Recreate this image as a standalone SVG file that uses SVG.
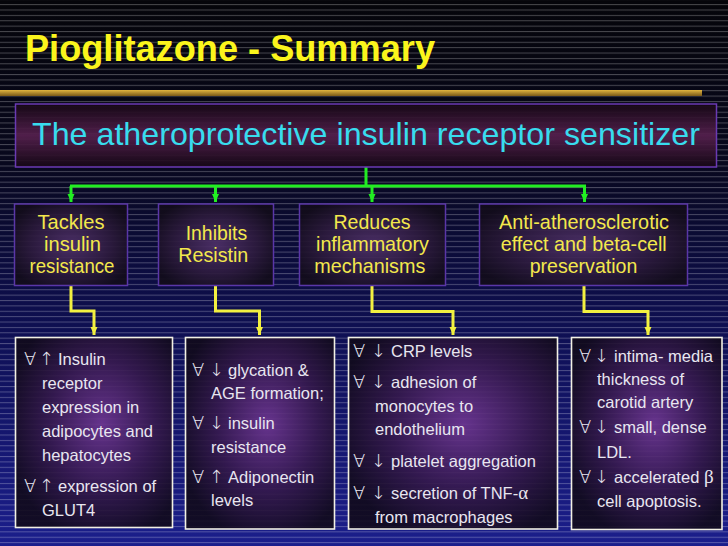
<svg xmlns="http://www.w3.org/2000/svg" width="728" height="546" viewBox="0 0 728 546">
<defs>
<linearGradient id="bg" x1="0" y1="0" x2="0" y2="1">
<stop offset="0" stop-color="#05050a"/>
<stop offset="0.3" stop-color="#08081e"/>
<stop offset="0.6" stop-color="#0e0f52"/>
<stop offset="1" stop-color="#1b1e8c"/>
</linearGradient>
<pattern id="stripes" patternUnits="userSpaceOnUse" x="0" y="9.5" width="728" height="5.38">
<rect x="0" y="0" width="728" height="1" fill="#ffffff" fill-opacity="0.26"/>
</pattern>
<linearGradient id="gold" x1="0" y1="0" x2="0" y2="1">
<stop offset="0" stop-color="#e0b440"/>
<stop offset="1" stop-color="#7a5818"/>
</linearGradient>
<linearGradient id="hdr" x1="0" y1="0" x2="0" y2="1">
<stop offset="0" stop-color="#150714" stop-opacity="0.92"/>
<stop offset="0.5" stop-color="#56204e" stop-opacity="0.92"/>
<stop offset="1" stop-color="#150714" stop-opacity="0.92"/>
</linearGradient>
<radialGradient id="topfill" cx="0.5" cy="0.5" r="0.6">
<stop offset="0" stop-color="#4e3068" stop-opacity="0.92"/>
<stop offset="0.6" stop-color="#2c1a3c" stop-opacity="0.92"/>
<stop offset="1" stop-color="#120c1a" stop-opacity="0.92"/>
</radialGradient>
<radialGradient id="botfill" cx="0.55" cy="0.45" r="0.62">
<stop offset="0" stop-color="#6e3690" stop-opacity="0.9"/>
<stop offset="0.55" stop-color="#36194c" stop-opacity="0.9"/>
<stop offset="1" stop-color="#110a1a" stop-opacity="0.9"/>
</radialGradient>
<marker id="ay" markerUnits="userSpaceOnUse" markerWidth="10" markerHeight="10" refX="8" refY="5" orient="auto" viewBox="0 0 10 10">
<path d="M0,1.5 L8,5 L0,8.5 Z" fill="#f2f040"/>
</marker>
<marker id="ag2" markerUnits="userSpaceOnUse" markerWidth="10" markerHeight="10" refX="8" refY="5" orient="auto" viewBox="0 0 10 10">
<path d="M0,1.5 L8,5 L0,8.5 Z" fill="#22ee22"/>
</marker>
</defs>
<style>
.title{font-family:"Liberation Sans",Arial,sans-serif;font-weight:bold;font-size:36px;fill:#fbf51c}
.hdrtxt{font-family:"Liberation Sans",Arial,sans-serif;font-size:32px;fill:#38dcee}
.top{font-family:"Liberation Sans",Arial,sans-serif;font-size:21px;fill:#f3e84c}
.bot{font-family:"Liberation Sans",Arial,sans-serif;font-size:16.5px;fill:#e8e6f0}
.sym{font-family:"DejaVu Sans",sans-serif;font-weight:200;font-size:18px}
.gr{font-family:"Liberation Serif",serif;font-size:19px}
.tbox{fill:url(#topfill);stroke:#5a36a8;stroke-width:1.5}
.bbox{fill:url(#botfill);stroke:#f2f0e4;stroke-width:1.6}
.gline{fill:none;stroke:#22ee22;stroke-width:3}
.yline{fill:none;stroke:#f2f040;stroke-width:3}
</style>

<rect x="0" y="0" width="728" height="546" fill="url(#bg)"/>
<rect x="0" y="0" width="728" height="546" fill="url(#stripes)"/>

<g id="title">
<text class="title" x="25" y="61" textLength="410" lengthAdjust="spacingAndGlyphs">Pioglitazone - Summary</text>
<rect x="0" y="90" width="702" height="6" fill="url(#gold)"/>
</g>

<g id="connectors">
<path class="gline" d="M366,167 V186"/>
<path class="gline" d="M70,186 H586"/>
<path class="gline" d="M71,186 V202" marker-end="url(#ag2)"/>
<path class="gline" d="M215.5,186 V202" marker-end="url(#ag2)"/>
<path class="gline" d="M372,186 V202" marker-end="url(#ag2)"/>
<path class="gline" d="M584.5,186 V202" marker-end="url(#ag2)"/>
<path class="yline" d="M71,286 V311 H94 V335" marker-end="url(#ay)"/>
<path class="yline" d="M215.5,286 V311 H259.5 V335" marker-end="url(#ay)"/>
<path class="yline" d="M372,286 V311.5 H453 V335" marker-end="url(#ay)"/>
<path class="yline" d="M584,286 V311.5 H648 V335" marker-end="url(#ay)"/>
</g>

<g id="header">
<rect x="15.5" y="104" width="701" height="63" fill="url(#hdr)" stroke="#6a3ab4" stroke-width="1.5"/>
<text class="hdrtxt" x="32" y="145" textLength="668" lengthAdjust="spacingAndGlyphs">The atheroprotective insulin receptor sensitizer</text>
</g>

<g id="tackles">
<rect class="tbox" x="14.5" y="204" width="113" height="81.5"/>
<text class="top" x="37.5" y="228.5" textLength="67" lengthAdjust="spacingAndGlyphs">Tackles</text>
<text class="top" x="44" y="250.5" textLength="57" lengthAdjust="spacingAndGlyphs">insulin</text>
<text class="top" x="29.5" y="272.5" textLength="85" lengthAdjust="spacingAndGlyphs">resistance</text>
</g>

<g id="inhibits">
<rect class="tbox" x="158.5" y="204" width="115" height="81.5"/>
<text class="top" x="185.7" y="239.5" textLength="61.5" lengthAdjust="spacingAndGlyphs">Inhibits</text>
<text class="top" x="178.3" y="262" textLength="70" lengthAdjust="spacingAndGlyphs">Resistin</text>
</g>

<g id="reduces">
<rect class="tbox" x="299.5" y="204" width="146" height="81.5"/>
<text class="top" x="333.5" y="228.5" textLength="77" lengthAdjust="spacingAndGlyphs">Reduces</text>
<text class="top" x="316" y="251" textLength="113" lengthAdjust="spacingAndGlyphs">inflammatory</text>
<text class="top" x="314.3" y="273" textLength="111" lengthAdjust="spacingAndGlyphs">mechanisms</text>
</g>

<g id="anti">
<rect class="tbox" x="479.5" y="204" width="208" height="81.5"/>
<text class="top" x="499" y="228.5" textLength="170" lengthAdjust="spacingAndGlyphs">Anti-atherosclerotic</text>
<text class="top" x="500.7" y="251" textLength="166" lengthAdjust="spacingAndGlyphs">effect and beta-cell</text>
<text class="top" x="529.7" y="273" textLength="107.6" lengthAdjust="spacingAndGlyphs">preservation</text>
</g>

<g id="box-insulin">
<rect class="bbox" x="15.5" y="337.5" width="157" height="190"/>
<text class="bot" y="364.5"><tspan class="sym" x="24">∀</tspan><tspan class="sym" x="39">↑</tspan><tspan x="58">Insulin</tspan></text>
<text class="bot" x="42" y="388.5">receptor</text>
<text class="bot" x="42" y="413">expression in</text>
<text class="bot" x="42" y="437">adipocytes and</text>
<text class="bot" x="42" y="461">hepatocytes</text>
<text class="bot" y="491.5"><tspan class="sym" x="24">∀</tspan><tspan class="sym" x="39">↑</tspan><tspan x="58">expression of</tspan></text>
<text class="bot" x="42" y="515.5">GLUT4</text>
</g>

<g id="box-resistin">
<rect class="bbox" x="185.5" y="337.5" width="149" height="191.5"/>
<text class="bot" y="375.5"><tspan class="sym" x="192">∀</tspan><tspan class="sym" x="209">↓</tspan><tspan x="228">glycation &amp;</tspan></text>
<text class="bot" x="211" y="399">AGE formation;</text>
<text class="bot" y="429"><tspan class="sym" x="192">∀</tspan><tspan class="sym" x="209">↓</tspan><tspan x="228">insulin</tspan></text>
<text class="bot" x="211" y="452.5">resistance</text>
<text class="bot" y="482.5"><tspan class="sym" x="192">∀</tspan><tspan class="sym" x="209">↑</tspan><tspan x="228">Adiponectin</tspan></text>
<text class="bot" x="211" y="506">levels</text>
</g>

<g id="box-inflammation">
<rect class="bbox" x="348.5" y="337.5" width="209" height="191.5"/>
<text class="bot" y="357"><tspan class="sym" x="353">∀</tspan><tspan class="sym" x="371">↓</tspan><tspan x="391">CRP levels</tspan></text>
<text class="bot" y="388"><tspan class="sym" x="353">∀</tspan><tspan class="sym" x="371">↓</tspan><tspan x="391">adhesion of</tspan></text>
<text class="bot" x="375" y="411.7">monocytes to</text>
<text class="bot" x="375" y="435">endothelium</text>
<text class="bot" y="467"><tspan class="sym" x="353">∀</tspan><tspan class="sym" x="371">↓</tspan><tspan x="391">platelet aggregation</tspan></text>
<text class="bot" y="499"><tspan class="sym" x="353">∀</tspan><tspan class="sym" x="371">↓</tspan><tspan x="391">secretion of TNF-</tspan><tspan class="gr">α</tspan></text>
<text class="bot" x="375" y="522.7">from macrophages</text>
</g>

<g id="box-antiathero">
<rect class="bbox" x="571.5" y="337.5" width="150.5" height="192"/>
<text class="bot" y="361.7"><tspan class="sym" x="579">∀</tspan><tspan class="sym" x="594">↓</tspan><tspan x="614">intima- media</tspan></text>
<text class="bot" x="597" y="385">thickness of</text>
<text class="bot" x="597" y="408.3">carotid artery</text>
<text class="bot" y="433.3"><tspan class="sym" x="579">∀</tspan><tspan class="sym" x="594">↓</tspan><tspan x="614">small, dense</tspan></text>
<text class="bot" x="597" y="457.7">LDL.</text>
<text class="bot" y="483.3"><tspan class="sym" x="579">∀</tspan><tspan class="sym" x="594">↓</tspan><tspan x="614">accelerated </tspan><tspan class="gr">β</tspan></text>
<text class="bot" x="597" y="506.7">cell apoptosis.</text>
</g>
</svg>
